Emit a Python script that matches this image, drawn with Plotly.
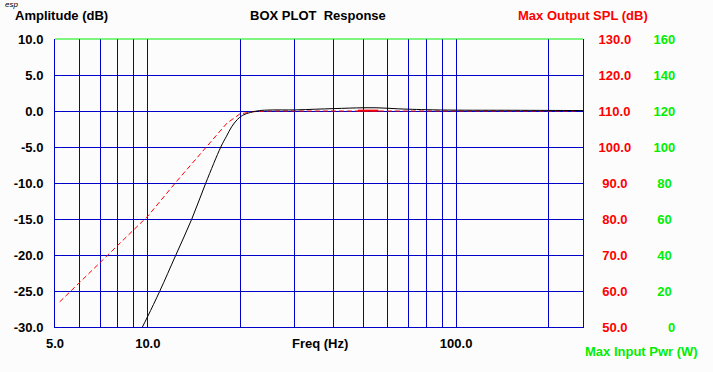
import plotly.graph_objects as go

# ---------------- data ----------------
resp_freq = [9.5, 10.0, 10.94, 12.33, 13.89, 15.42, 17.25, 18.0, 18.7, 19.5, 20.3, 21.5, 23.0, 25.0,
             30.0, 35.0, 40.0, 45.0, 50.0, 55.0, 60.0, 65.0, 70.0, 80.0, 100.0, 150.0, 200.0, 258.0]
resp_db = [-30.4, -28.5, -25.0, -20.0, -15.0, -10.0, -5.0, -3.5, -2.2, -1.2, -0.6, -0.2, 0.05, 0.14,
           0.15, 0.25, 0.33, 0.40, 0.45, 0.45, 0.38, 0.30, 0.25, 0.18, 0.12, 0.10, 0.08, 0.06]

ref_freq = [5.18, 8.55, 10.0, 12.5, 15.5, 18.05, 19.9, 21.9, 25.0, 250.0]
ref_db = [-26.5, -17.5, -14.6, -9.6, -5.0, -1.7, -0.4, -0.1, 0.0, 0.0]

spl_freq = [48.0, 56.0]
spl_db = [0.05, 0.05]

x_grid = [5, 6, 7, 8, 9, 10, 20, 30, 40, 50, 60, 70, 80, 90, 100, 200]
x_labels = ["5.0", "10.0", "100.0"]
amp_ticks = [-30, -25, -20, -15, -10, -5, 0, 5, 10]
spl_ticks = [50, 60, 70, 80, 90, 100, 110, 120, 130]
pwr_ticks = [0, 20, 40, 60, 80, 100, 120, 140, 160]

BLUE = "#0000c8"
RED = "#ff0000"
GREEN = "#00ee00"
BG = "#fcfcfc"
FONT = "Arial"

fig = go.Figure()
fig.add_trace(go.Scatter(x=ref_freq, y=ref_db, mode="lines",
                         line=dict(color=RED, width=1, dash="5px,3px"), hoverinfo="skip"))
fig.add_trace(go.Scatter(x=resp_freq, y=resp_db, mode="lines", line_shape="spline",
                         line=dict(color="black", width=1), hoverinfo="skip"))
fig.add_trace(go.Scatter(x=spl_freq, y=spl_db, mode="lines",
                         line=dict(color=RED, width=2), hoverinfo="skip"))
# invisible traces to activate right axes
fig.add_trace(go.Scatter(x=[10], y=[90], yaxis="y2", mode="markers", marker=dict(opacity=0), hoverinfo="skip"))
fig.add_trace(go.Scatter(x=[10], y=[80], yaxis="y3", mode="markers", marker=dict(opacity=0), hoverinfo="skip"))

def fmt1(v):
    return f"{v:.1f}"

x_text = [f"{v:.1f}" if f"{v:.1f}" in x_labels else "" for v in x_grid]
spl_text = [("\u00a0" if len(fmt1(v)) < 5 else "") + fmt1(v) for v in spl_ticks]
pwr_text = ["\u00a0" * (2 * (3 - len(str(v))) if len(str(v)) == 1 else (3 - len(str(v)))) + str(v) for v in pwr_ticks]

tickfont = dict(family=FONT, size=13, color="black", weight=700)

fig.update_layout(
    width=713, height=372,
    margin=dict(l=55, r=130, t=39, b=45, pad=0, autoexpand=False),
    paper_bgcolor=BG, plot_bgcolor=BG,
    showlegend=False,
    xaxis=dict(type="log", range=[0.69897, 2.4116], tickvals=x_grid, ticktext=x_text,
               showgrid=True, gridcolor=BLUE, gridwidth=1, zeroline=False,
               showline=True, linecolor=BLUE, linewidth=1, automargin=False,
               ticks="outside", ticklen=4, tickcolor="rgba(0,0,0,0)",
               tickfont=tickfont),
    yaxis=dict(range=[-30, 10], tickvals=amp_ticks, ticktext=[fmt1(v) for v in amp_ticks],
               showgrid=True, gridcolor=BLUE, gridwidth=1, zeroline=False,
               showline=True, linecolor=BLUE, linewidth=1, automargin=False,
               ticks="outside", ticklen=8, tickcolor="rgba(0,0,0,0)",
               tickfont=tickfont),
    yaxis2=dict(range=[50, 130], overlaying="y", side="right", anchor="x",
                tickvals=spl_ticks, ticktext=spl_text, automargin=False,
                showgrid=False, zeroline=False, showline=True, linecolor=BLUE, linewidth=1,
                ticks="outside", ticklen=12, tickcolor="rgba(0,0,0,0)",
                tickfont=dict(family=FONT, size=13, color=RED, weight=700)),
    yaxis3=dict(range=[0, 160], overlaying="y", side="right", anchor="x",
                tickvals=pwr_ticks, ticktext=pwr_text, automargin=False,
                showgrid=False, zeroline=False, showline=False,
                ticks="outside", ticklen=67, tickcolor="rgba(0,0,0,0)",
                tickfont=dict(family=FONT, size=13, color=GREEN, weight=700)),
    shapes=[dict(type="line", xref="paper", yref="paper", x0=0, x1=1, y0=1, y1=1,
                 line=dict(color=GREEN, width=1), layer="above")],
)

ann_font = dict(family=FONT, size=13, color="black", weight=700)
annotations = [
    dict(text="Amplitude (dB)", x=-0.0795, y=1.0833, xanchor="left", yanchor="middle", font=ann_font),
    dict(text="BOX PLOT\u00a0\u00a0Response", x=0.498, y=1.0833, xanchor="center", yanchor="middle", font=ann_font),
    dict(text="Max Output SPL (dB)", x=1.0, y=1.0833, xanchor="center", yanchor="middle",
         font=dict(family=FONT, size=13, color=RED, weight=700)),
    dict(text="Freq (Hz)", x=0.501, y=-0.0556, xanchor="center", yanchor="middle", font=ann_font),
    dict(text="Max Input Pwr (W)", x=1.1108, y=-0.0868, xanchor="center", yanchor="middle",
         font=dict(family=FONT, size=13, color=GREEN, weight=700)),
    dict(text="esp", x=-0.0985, y=1.1215, xanchor="left", yanchor="middle",
         font=dict(family=FONT, size=8, color="black", style="italic")),
]
for a in annotations:
    a.update(xref="paper", yref="paper", showarrow=False)
fig.update_layout(annotations=annotations)

fig.write_html("out.html", config={"displayModeBar": False},
               post_script="document.body.style.margin='0';document.body.style.background='#fcfcfc';")
